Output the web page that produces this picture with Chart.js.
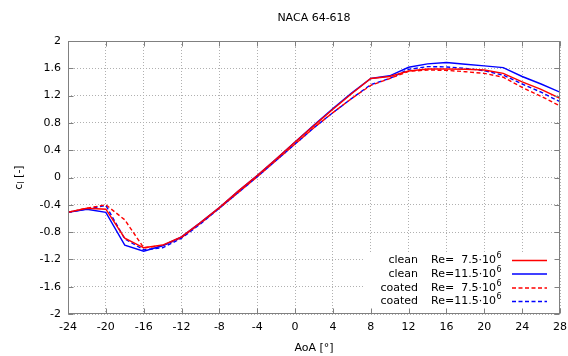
<!DOCTYPE html>
<html>
<head>
<meta charset="utf-8">
<script src="https://cdn.jsdelivr.net/npm/chart.js@4/dist/chart.umd.min.js"></script>
<style>
html,body{margin:0;padding:0;background:#fff;}
#wrap{width:568px;height:356px;position:relative;}
</style>
</head>
<body>
<div id="wrap"><canvas id="c"></canvas></div>
<script>
// ---- data ----
const aoa = [-24,-22,-20,-18,-16,-14,-12,-10,-8,-6,-4,-2,0,2,4,6,8,10,12,14,16,18,20,22,24,26,28];
const cleanRe75  = [-0.51,-0.45,-0.465,-0.89,-1.03,-0.99,-0.87,-0.66,-0.44,-0.20,0.03,0.27,0.52,0.76,1.00,1.23,1.45,1.48,1.56,1.59,1.59,1.585,1.575,1.525,1.40,1.29,1.16];
const cleanRe115 = [-0.51,-0.465,-0.51,-0.99,-1.08,-1.00,-0.87,-0.66,-0.44,-0.20,0.03,0.27,0.52,0.77,1.01,1.24,1.45,1.49,1.615,1.665,1.685,1.66,1.635,1.61,1.48,1.37,1.25];
const coatedRe75 = [-0.51,-0.45,-0.40,-0.62,-1.03,-1.00,-0.88,-0.67,-0.45,-0.22,0.01,0.25,0.49,0.73,0.95,1.16,1.35,1.45,1.555,1.575,1.57,1.55,1.525,1.47,1.32,1.19,1.05];
const coatedRe115= [-0.51,-0.46,-0.41,-0.90,-1.06,-1.03,-0.89,-0.68,-0.45,-0.22,0.01,0.25,0.49,0.73,0.95,1.16,1.36,1.45,1.585,1.625,1.62,1.60,1.565,1.50,1.37,1.25,1.11];
const xTicks = [-24,-20,-16,-12,-8,-4,0,4,8,12,16,20,24,28];
const yTicks = [-2,-1.6,-1.2,-0.8,-0.4,0,0.4,0.8,1.2,1.6,2];
const seriesLabels = ['clean','clean','coated','coated'];
const seriesRe = ['  7.5','11.5','  7.5','11.5'];
const chartTitle = 'NACA 64-618';
const xTitle = 'AoA [°]';

const RED = '#ff0000', BLUE = '#0000ff';
const FONT = 'DejaVu Sans';
const series = [cleanRe75, cleanRe115, coatedRe75, coatedRe115];
const colors = [RED, BLUE, RED, BLUE];
const dashes = [[], [], [4,2.5], [4,2.5]];

const datasets = series.map((vals, i) => ({
  label: seriesLabels[i] + ' Re=' + seriesRe[i],
  data: aoa.map((x, k) => ({x: x, y: vals[k]})),
  borderColor: colors[i],
  borderWidth: 1.4,
  borderDash: dashes[i],
  pointRadius: 0,
  tension: 0,
  fill: false
}));

const deco = {
  id: 'deco',
  beforeDatasetsDraw(chart) {
    const ctx = chart.ctx, a = chart.chartArea;
    ctx.save();
    ctx.fillStyle = '#fff';
    ctx.fillRect(a.left + 297, a.top + 212, a.right - a.left - 297, a.bottom - a.top - 212);
    ctx.restore();
  },
  afterDraw(chart) {
    const ctx = chart.ctx, a = chart.chartArea;
    const xs = chart.scales.x, ys = chart.scales.y;
    ctx.save();
    // frame
    ctx.strokeStyle = '#808080';
    ctx.lineWidth = 1;
    const L = Math.round(a.left) + 0.5, R = Math.round(a.right) - 0.5;
    const T = Math.round(a.top) + 0.5, B = Math.round(a.bottom) - 0.5;
    ctx.strokeRect(L, T, R - L, B - T);
    // ticks (inward, mirrored)
    ctx.beginPath();
    xTicks.forEach(v => {
      const px = Math.round(xs.getPixelForValue(v)) + 0.5;
      ctx.moveTo(px, B); ctx.lineTo(px, B - 5);
      ctx.moveTo(px, T); ctx.lineTo(px, T + 5);
    });
    yTicks.forEach(v => {
      const py = Math.round(ys.getPixelForValue(v)) + 0.5;
      ctx.moveTo(L, py); ctx.lineTo(L + 5, py);
      ctx.moveTo(R, py); ctx.lineTo(R - 5, py);
    });
    ctx.stroke();

    ctx.fillStyle = '#000';
    ctx.textBaseline = 'middle';
    ctx.font = '11px "' + FONT + '"';
    ctx.textAlign = 'center';
    const cx = (a.left + a.right) / 2;
    ctx.fillText(chartTitle, cx, 18);
    ctx.fillText(xTitle, cx, 348);

    // y title c_l [-]
    ctx.save();
    ctx.translate(19, (a.top + a.bottom) / 2);
    ctx.rotate(-Math.PI / 2);
    ctx.textAlign = 'left';
    const fMain = '11px "' + FONT + '"', fSub = '8px "' + FONT + '"';
    ctx.font = fMain; const wc = ctx.measureText('c').width; const wr = ctx.measureText(' [-]').width;
    ctx.font = fSub; const wl = ctx.measureText('l').width;
    let sx = -(wc + wl + wr) / 2;
    ctx.font = fMain; ctx.fillText('c', sx, 0); sx += wc;
    ctx.font = fSub; ctx.fillText('l', sx, 3); sx += wl;
    ctx.font = fMain; ctx.fillText(' [-]', sx, 0);
    ctx.restore();

    // legend
    const rowY = [260.5, 274, 288, 301.5];
    for (let i = 0; i < 4; i++) {
      const y = rowY[i];
      ctx.font = fMain;
      ctx.textAlign = 'right';
      ctx.fillText(seriesLabels[i], 418, y);
      ctx.textAlign = 'left';
      const t = 'Re=' + seriesRe[i] + '·10';
      ctx.fillText(t, 431, y);
      const w = ctx.measureText(t).width;
      ctx.font = fSub;
      ctx.fillText('6', 431 + w + 0.5, y - 4.5);
      ctx.strokeStyle = colors[i];
      ctx.lineWidth = 1.4;
      ctx.setLineDash(dashes[i]);
      ctx.beginPath();
      ctx.moveTo(512, y); ctx.lineTo(547, y);
      ctx.stroke();
      ctx.setLineDash([]);
    }
    ctx.restore();
  }
};

Chart.defaults.font.family = FONT;
Chart.defaults.font.size = 11;
Chart.defaults.color = '#000';

new Chart(document.getElementById('c'), {
  type: 'line',
  data: { datasets },
  options: {
    responsive: true,
    maintainAspectRatio: false,
    animation: false,
    layout: { padding: { left: 0, right: 8, top: 41, bottom: 0 } },
    plugins: { legend: { display: false }, tooltip: { enabled: false }, title: { display: false } },
    scales: {
      x: {
        type: 'linear', min: -24, max: 28,
        afterBuildTicks: s => { s.ticks = xTicks.map(v => ({ value: v })); },
        afterFit: s => { s.height = 42; s.paddingLeft = 0; s.paddingRight = 0; },
        ticks: { padding: 7, maxRotation: 0, autoSkip: false, callback: v => String(v) },
        grid: { color: '#b0b0b0', lineWidth: 1, drawTicks: false },
        border: { display: false, dash: [1, 2] }
      },
      y: {
        type: 'linear', min: -2, max: 2,
        afterBuildTicks: s => { s.ticks = yTicks.map(v => ({ value: v })); },
        afterFit: s => { s.width = 68; s.paddingTop = 0; s.paddingBottom = 0; },
        ticks: { padding: 7, autoSkip: false, callback: v => String(Math.round(v * 10) / 10) },
        grid: { color: '#b0b0b0', lineWidth: 1, drawTicks: false },
        border: { display: false, dash: [1, 2] }
      }
    }
  },
  plugins: [deco]
});
</script>
</body>
</html>
